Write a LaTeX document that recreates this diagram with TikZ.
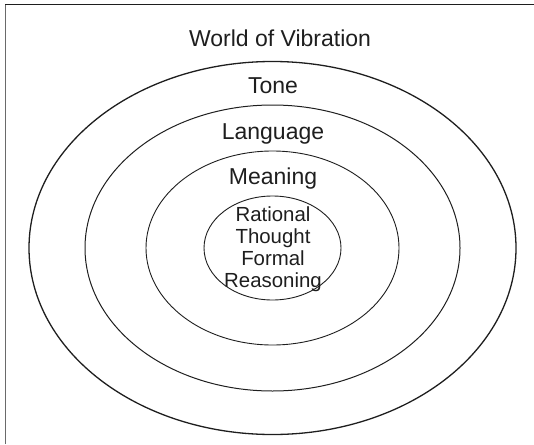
\documentclass[tikz,border=0pt]{standalone}
\usepackage{fontspec}
\setmainfont{Liberation Sans}
\usetikzlibrary{shapes.geometric}
\definecolor{ink}{HTML}{1E1E1E}
\definecolor{rule}{HTML}{6A6A6A}

\begin{document}
\begin{tikzpicture}[
  x=0.5pt,y=-0.5pt,
  every node/.style={inner sep=0pt,text=ink},
  label/.style={font=\fontsize{11.5}{13}\selectfont,anchor=base},
  core/.style={font=\fontsize{10.2}{11}\selectfont,align=center},
  ring/.style={ellipse,draw=ink,line width=.45pt}
]
\useasboundingbox (0,0) rectangle (534,444);
% frame, cut at right and bottom
\draw[rule,line width=.9pt] (5.5,444) -- (5.5,4.5);
\draw[ink,line width=.8pt] (5,4.5) -- (534,4.5);
% rings
\coordinate (mid) at (272.5,248);
\node[ring,line width=.65pt,minimum width=243.5pt,minimum height=186.5pt] (vibration) at (mid) {};
\node[ring,line width=.5pt,minimum width=187.5pt,minimum height=143pt] (tone) at (mid) {};
\node[ring,minimum width=126.5pt,minimum height=97pt] (language) at (mid) {};
\node[ring,minimum width=68.5pt,minimum height=52pt] (meaning) at (mid) {};
% labels
\node[label] (vibrationtext) at (280,46.7) {World of Vibration};
\node[label] (tonetext) at (273,93.7) {Tone};
\node[label] (languagetext) at (273,139.6) {Language};
\node[label] (meaningtext) at (273,184) {Meaning};
\node[core] (thought) at (273,249) {Rational\\Thought\\Formal\\Reasoning};
\end{tikzpicture}
\end{document}
